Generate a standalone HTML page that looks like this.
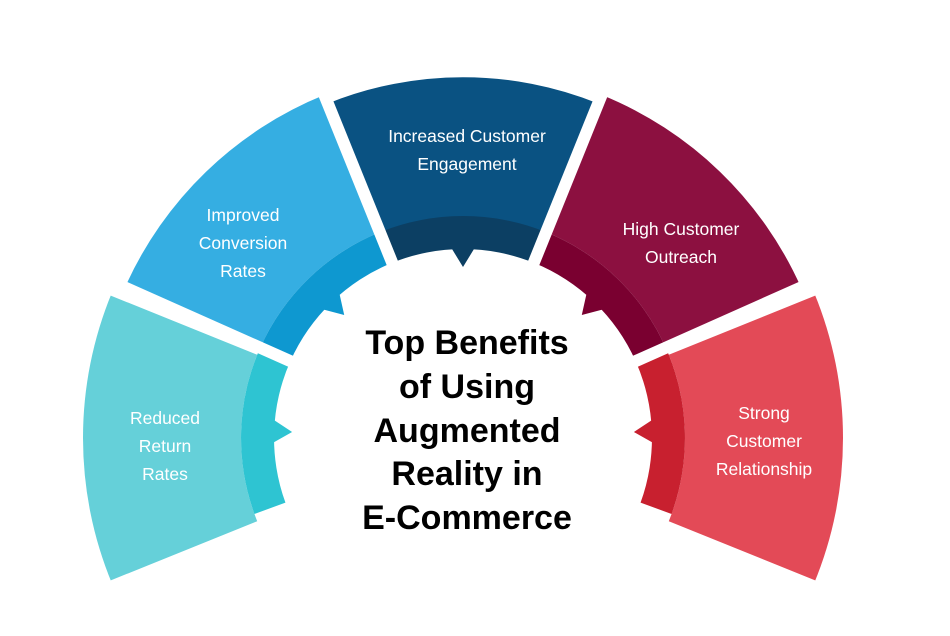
<!DOCTYPE html>
<html><head><meta charset="utf-8"><style>
html,body{margin:0;padding:0;background:#fff;}
svg{display:block;}
.l{font-family:"Liberation Sans",sans-serif;font-size:17.5px;fill:#fff;text-anchor:middle;}
.c{font-family:"Liberation Sans",sans-serif;font-size:34px;font-weight:bold;fill:#000;text-anchor:middle;}
</style></head><body>
<svg width="950" height="636" viewBox="0 0 950 636">
<defs>
<path id="lt" d="M -138.6 -343.1 A 370 370 0 0 1 138.6 -343.1 L 83.2 -205.8 A 222 222 0 0 0 -83.2 -205.8 Z"/>
<path id="lt2" d="M -152 -376 A 405 405 0 0 1 152 -376 L 83.2 -205.8 A 222 222 0 0 0 -83.2 -205.8 Z"/>
<path id="dk" d="M -83.2 -205.8 A 222 222 0 0 1 83.2 -205.8 L 70.8 -175.2 A 189 189 0 0 0 -70.8 -175.2 Z M -11 -189 L 11 -189 L 0 -171 Z"/>
<clipPath id="cl"><circle cx="0" cy="0" r="380"/></clipPath>
</defs>
<g transform="translate(463,438)">
<g clip-path="url(#cl)">
<g transform="rotate(-90)"><use href="#lt2" fill="#65D0D9"/></g>
<g transform="rotate(90)"><use href="#lt2" fill="#E34A57"/></g>
</g>
<g transform="rotate(-88)"><use href="#dk" fill="#2EC4D2"/></g>
<g transform="rotate(88)"><use href="#dk" fill="#C8202F"/></g>
<g transform="rotate(-44)"><use href="#lt" fill="#35AEE2"/><use href="#dk" fill="#0E98D0"/></g>
<g transform="rotate(0) scale(0.975)"><use href="#lt" fill="#0A5282"/></g>
<g><use href="#dk" fill="#0C3F63"/></g>
<g transform="rotate(44)"><use href="#lt" fill="#8C1040"/><use href="#dk" fill="#7A0030"/></g>
<g stroke="#fff" stroke-width="12">
<line x1="0" y1="-150" x2="0" y2="-420" transform="rotate(22)"/>
<line x1="0" y1="-150" x2="0" y2="-420" transform="rotate(66)"/>
<line x1="0" y1="-150" x2="0" y2="-420" transform="rotate(-22)"/>
<line x1="0" y1="-150" x2="0" y2="-420" transform="rotate(-66)"/>
</g>
</g>
<text class="l" x="165" y="424">Reduced</text>
<text class="l" x="165" y="452">Return</text>
<text class="l" x="165" y="480">Rates</text>
<text class="l" x="243" y="221">Improved</text>
<text class="l" x="243" y="249">Conversion</text>
<text class="l" x="243" y="277">Rates</text>
<text class="l" x="467" y="142">Increased Customer</text>
<text class="l" x="467" y="170">Engagement</text>
<text class="l" x="681" y="235">High Customer</text>
<text class="l" x="681" y="263">Outreach</text>
<text class="l" x="764" y="419">Strong</text>
<text class="l" x="764" y="447">Customer</text>
<text class="l" x="764" y="475">Relationship</text>
<text class="c" x="467" y="354">Top Benefits</text>
<text class="c" x="467" y="398">of Using</text>
<text class="c" x="467" y="442">Augmented</text>
<text class="c" x="467" y="485">Reality in</text>
<text class="c" x="467" y="529">E-Commerce</text>
</svg>
</body></html>
